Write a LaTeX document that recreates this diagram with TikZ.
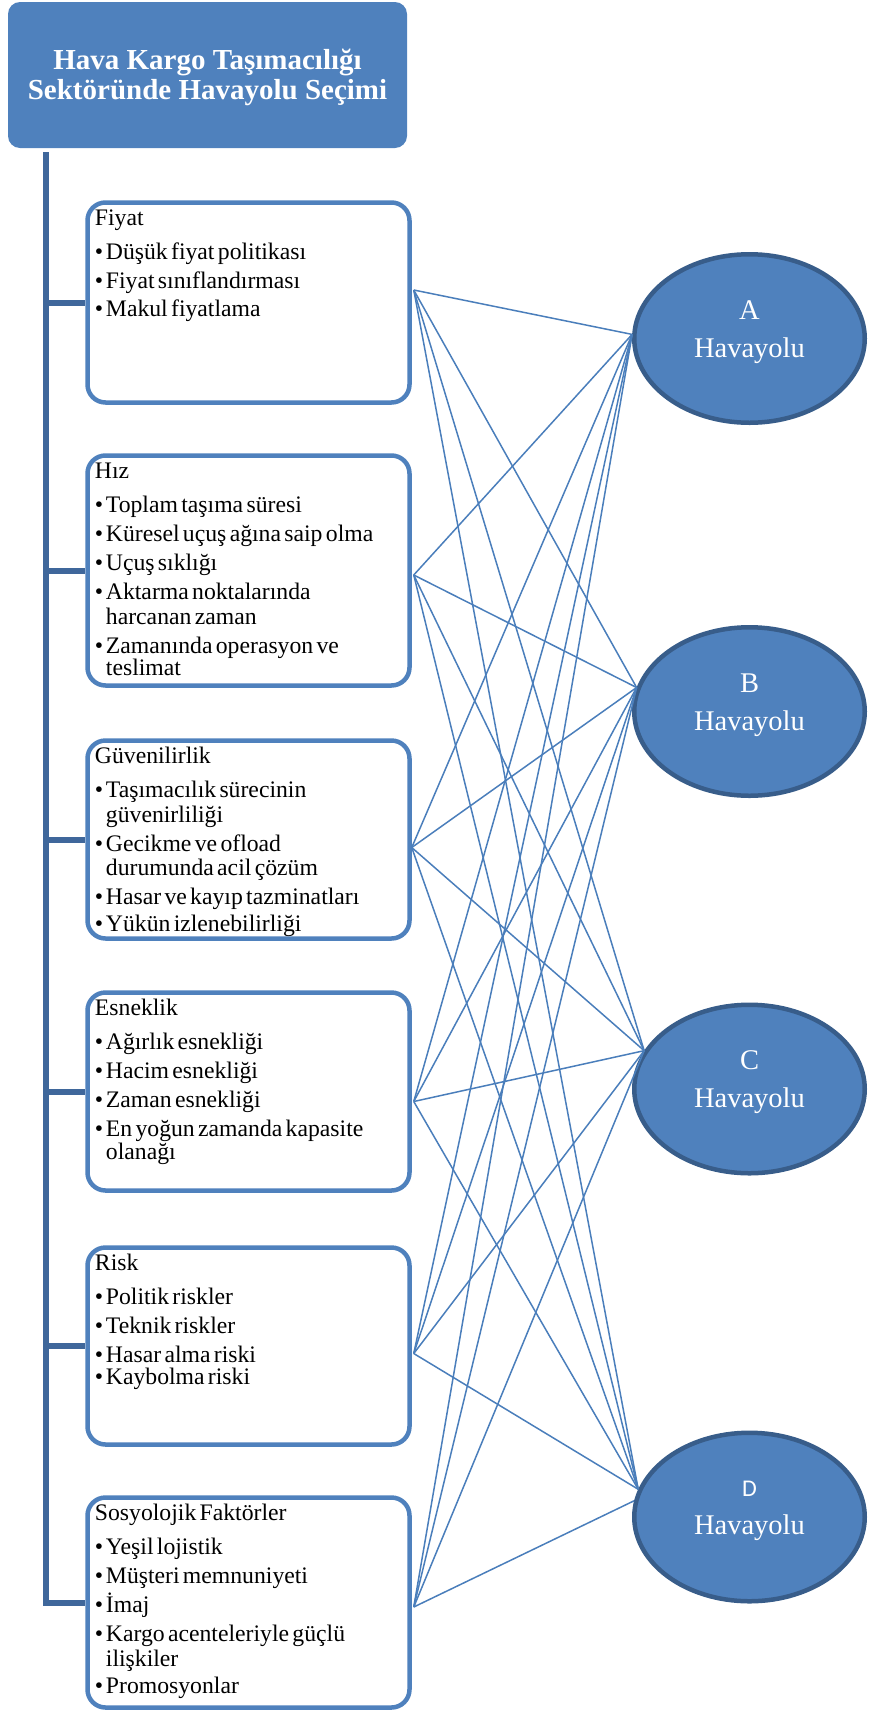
\documentclass[tikz,border=0pt]{standalone}
\usepackage{fontspec}
\setmainfont{Liberation Serif}
\newfontfamily\calibrilike{Carlito}
\usetikzlibrary{shapes.geometric,calc}
\definecolor{accent}{HTML}{4F81BD}
\definecolor{accentdark}{HTML}{385D8A}
\definecolor{spinecol}{HTML}{3F679B}
\definecolor{linkcol}{HTML}{4A7EBB}
% text set inside the factor boxes: a heading, then bulleted lines
\newcommand\boxfont{\rmfamily\fontsize{23.7}{24.5}\selectfont\lineskiplimit=-20pt}
\newcommand\bl{\makebox[11pt][l]{\textbullet}}
\newcommand\hi{\hspace*{11pt}}
\newcommand\headgap{\\[9.5pt]}
\newcommand\itemgap{\\[4.5pt]}
\tikzset{
  titlebox/.style={fill=accent, rounded corners=12pt, minimum width=399pt, minimum height=146pt,
    inner sep=0pt},
  titletext/.style={text=white, align=center, inner sep=0pt,
    font=\rmfamily\bfseries\fontsize{29}{30.5}\selectfont},
  factorbox/.style={draw=accent, line width=4.5pt, rounded corners=18pt, fill=white,
    minimum width=322pt, inner sep=0pt},
  factortext/.style={anchor=base west, text width=305pt, align=left, inner sep=0pt},
  airline/.style={ellipse, draw=accentdark, fill=accent, line width=4.5pt,
    minimum width=230.5pt, minimum height=168.5pt, inner sep=0pt},
  airlinetext/.style={anchor=base, align=center, text=white, inner sep=0pt,
    font=\rmfamily\fontsize{28.5}{38}\selectfont},
  link/.style={draw=linkcol, line width=1.5pt},
  spine/.style={draw=spinecol, line width=6pt},
}
\begin{document}
\begin{tikzpicture}[x=1pt,y=-1pt]
\useasboundingbox (0,0) rectangle (873,1711);

% heading
\node[titlebox] (title) at (207.5,75) {};
\node[titletext] (titleT) at ($(title.center)+(0,2.5)$) {Hava Kargo Taşımacılığı\\Sektöründe Havayolu Seçimi};

% factor boxes
\node[factorbox, minimum height=200pt] (fiyat) at (248.5,302.5) {};
\node[factorbox, minimum height=230pt] (hiz)   at (248.5,570.5) {};
\node[factorbox, minimum height=198pt] (guv)   at (248.5,839.5) {};
\node[factorbox, minimum height=198pt] (esn)   at (248.5,1091.5) {};
\node[factorbox, minimum height=197pt] (risk)  at (248.5,1346) {};
\node[factorbox, minimum height=210pt] (sos)   at (248.5,1602.5) {};

% spine with branches to every box
\coordinate (spinetop) at (46.3,152);
\draw[spine] (spinetop) |- (sos.west);
\foreach \b in {fiyat,hiz,guv,esn,risk}
  \draw[spine] (spinetop |- \b.west) -- (\b.west);

% box contents
\node[factortext] (fiyatT) at ($(fiyat.north west)+(9.5,25.5)$) {\boxfont Fiyat\headgap
  \bl Düşük fiyat politikası\itemgap \bl Fiyat sınıflandırması\itemgap \bl Makul fiyatlama};
\node[factortext] (hizT) at ($(hiz.north west)+(9.5,25.5)$) {\boxfont Hız\headgap
  \bl Toplam taşıma süresi\itemgap \bl Küresel uçuş ağına saip olma\itemgap \bl Uçuş sıklığı\itemgap
  \bl Aktarma noktalarında\\ \hi harcanan zaman\itemgap \bl Zamanında operasyon ve\\ \hi teslimat};
\node[factortext] (guvT) at ($(guv.north west)+(9.5,25.5)$) {\boxfont Güvenilirlik\headgap
  \bl Taşımacılık sürecinin\\ \hi güvenirliliği\itemgap \bl Gecikme ve ofload\\ \hi durumunda acil çözüm\itemgap
  \bl Hasar ve kayıp tazminatları\itemgap \bl Yükün izlenebilirliği};
\node[factortext] (esnT) at ($(esn.north west)+(9.5,25.5)$) {\boxfont Esneklik\headgap
  \bl Ağırlık esnekliği\itemgap \bl Hacim esnekliği\itemgap \bl Zaman esnekliği\itemgap
  \bl En yoğun zamanda kapasite\\ \hi olanağı};
\node[factortext] (riskT) at ($(risk.north west)+(9.5,25.5)$) {\boxfont Risk\headgap
  \bl Politik riskler\itemgap \bl Teknik riskler\itemgap \bl Hasar alma riski\itemgap \bl Kaybolma riski};
\node[factortext] (sosT) at ($(sos.north west)+(9.5,25.5)$) {\boxfont Sosyolojik Faktörler\headgap
  \bl Yeşil lojistik\itemgap \bl Müşteri memnuniyeti\itemgap \bl İmaj\itemgap
  \bl Kargo acenteleriyle güçlü\\ \hi ilişkiler\itemgap \bl Promosyonlar};

% airlines
\node[airline] (A) at (749.5,338.5) {};
\node[airline] (B) at (749.5,711.5) {};
\node[airline] (C) at (749.5,1089) {};
\node[airline] (D) at (749.5,1517) {};
\node[airlinetext] (Atext) at ($(A.center)+(0,18.5)$) {A\\Havayolu};
\node[airlinetext] (Btext) at ($(B.center)+(0,18.5)$) {B\\Havayolu};
\node[airlinetext] (Ctext) at ($(C.center)+(0,18.5)$) {C\\Havayolu};
\node[airlinetext] (Dtext) at ($(D.center)+(0,17)$) {{\calibrilike\fontsize{24}{38}\selectfont D}\\Havayolu};

% start points of the links on the boxes
\coordinate (pF) at ($(fiyat.east)+(2,-12.5)$);
\coordinate (pH) at ($(hiz.east)+(2,4.5)$);
\coordinate (pG) at ($(guv.east)+(0,8)$);
\coordinate (pE) at ($(esn.east)+(2,10)$);
\coordinate (pR) at ($(risk.east)+(2,7.5)$);
\coordinate (pS) at ($(sos.east)+(2,4.5)$);

% every factor is linked to every airline
\foreach \p in {pF,pH,pG,pE,pR}
  \foreach \e/\ang in {A/178,B/168,C/160,D/166}
    \draw[link] (\p) -- (\e.\ang);
\foreach \e/\ang in {A/178,B/168,C/160,D/172}
  \draw[link] (pS) -- (\e.\ang);
\end{tikzpicture}
\end{document}
